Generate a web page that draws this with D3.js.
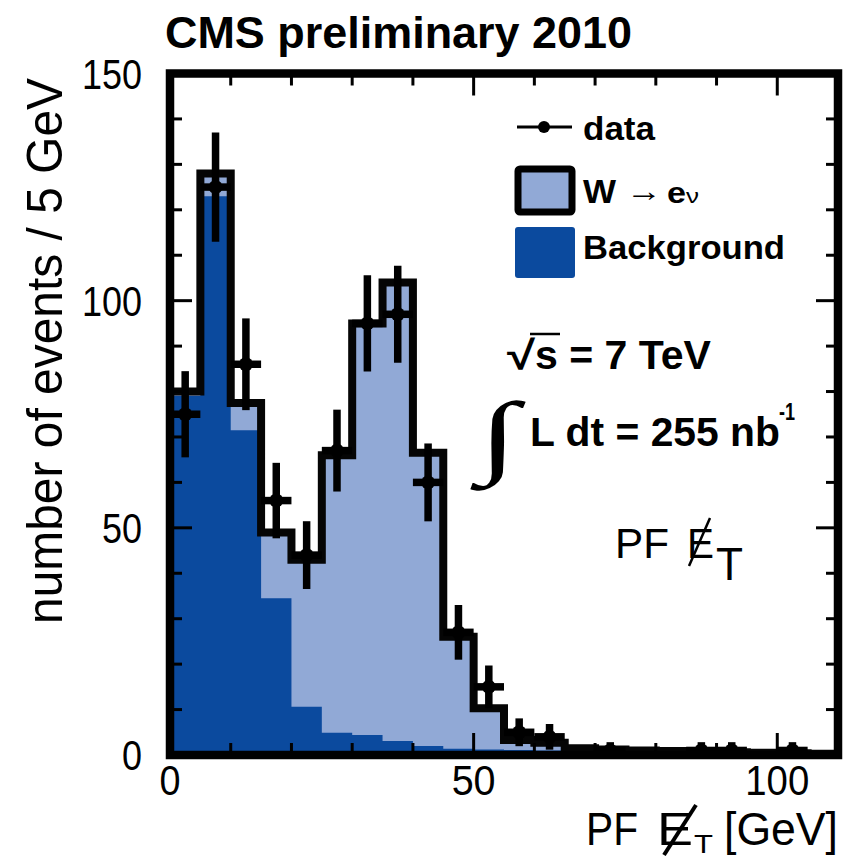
<!DOCTYPE html>
<html>
<head>
<meta charset="utf-8">
<script src="https://cdn.jsdelivr.net/npm/d3@7"></script>
<style>
  body { margin: 0; background: #ffffff; }
  svg { display: block; }
</style>
</head>
<body>
<svg id="chart" width="848" height="862"></svg>
<script>
// PF missing transverse energy in the W -> e nu selection, 5 GeV bins from 0 to 110 GeV
const binLow = [0, 5, 10, 15, 20, 25, 30, 35, 40, 45, 50, 55, 60, 65, 70, 75, 80, 85, 90, 95, 100, 105];
const binWidth = 5;
const background = [79, 123, 71.5, 34.5, 10.6, 4.9, 4.4, 3.1, 2.0, 1.4, 1.2, 1.1, 1.0, 0.9, 0.9, 0.8, 0.8, 0.2, 0.2, 0.1, 0.1, 0.1];
const signalW = [1, 5, 6, 14.5, 32.4, 61.1, 90.6, 100.9, 64.5, 24.6, 9.1, 2.2, 1.7, 0.6, 0.3, 0.2, 0.1, 0.6, 0.4, 0.4, 0.3, 0.2];
const dataCounts = [75, 125, 86, 56, 44, 67, 95, 97, 60, 27, 15, 5, 4, 0, 1, 0, 0, 1, 1, 0, 1, 0];
const xMajorTicks = [0, 50, 100];
const yMajorTicks = [0, 50, 100, 150];

const colBackground = "#0b4a9e";
const colSignal = "#91a9d6";
const SANS = "'Liberation Sans', Arial, Helvetica, sans-serif";
const SERIF = "'Liberation Serif', 'Times New Roman', serif";

const svg = d3.select("#chart");

const x = d3.scaleLinear().domain([0, 110]).range([170, 838]);
const y = d3.scaleLinear().domain([0, 150]).range([755, 73.5]);

const bins = binLow.map((lo, i) => ({
  lo, hi: lo + binWidth,
  bkg: background[i],
  tot: background[i] + signalW[i],
  n: dataCounts[i]
}));

// stacked fills: total (signal on top of background), then background
const area = d3.area()
  .x(d => x(d[0]))
  .y0(y(0))
  .y1(d => y(d[1]))
  .curve(d3.curveStepAfter);

function stepPoints(key) {
  const pts = bins.map(b => [b.lo, b[key]]);
  pts.push([bins[bins.length - 1].hi, bins[bins.length - 1][key]]);
  return pts;
}

svg.append("path").attr("d", area(stepPoints("tot"))).attr("fill", colSignal);
svg.append("path").attr("d", area(stepPoints("bkg"))).attr("fill", colBackground);

// thick outline of the total prediction
const line = d3.line().x(d => x(d[0])).y(d => y(d[1])).curve(d3.curveStepAfter);
const outlinePts = [[0, 0]].concat(stepPoints("tot"));
svg.append("path")
  .attr("d", line(outlinePts))
  .attr("fill", "none")
  .attr("stroke", "#050505")
  .attr("stroke-width", 8)
  .attr("stroke-linejoin", "miter");

// data points with Poisson error bars
const dataG = svg.append("g");
bins.filter(b => b.n > 0).forEach(b => {
  const c = (b.lo + b.hi) / 2;
  const e = Math.sqrt(b.n);
  dataG.append("line")
    .attr("x1", x(c)).attr("x2", x(c))
    .attr("y1", y(b.n - e)).attr("y2", y(b.n + e))
    .attr("stroke", "#000").attr("stroke-width", 7.5).attr("stroke-linecap", "square");
  dataG.append("line")
    .attr("x1", x(b.lo)).attr("x2", x(b.hi))
    .attr("y1", y(b.n)).attr("y2", y(b.n))
    .attr("stroke", "#000").attr("stroke-width", 7.5);
  dataG.append("circle")
    .attr("cx", x(c)).attr("cy", y(b.n)).attr("r", 7).attr("fill", "#000");
});

// frame and ticks
svg.append("rect")
  .attr("x", x(0)).attr("y", y(150))
  .attr("width", x(110) - x(0)).attr("height", y(0) - y(150))
  .attr("fill", "none").attr("stroke", "#000").attr("stroke-width", 8.5);

const tickG = svg.append("g").attr("stroke", "#000").attr("stroke-width", 3);
d3.range(0, 111, 10).forEach(v => {
  const len = xMajorTicks.includes(v) ? 22 : 12;
  tickG.append("line").attr("x1", x(v)).attr("x2", x(v)).attr("y1", y(0)).attr("y2", y(0) - len);
  tickG.append("line").attr("x1", x(v)).attr("x2", x(v)).attr("y1", y(150)).attr("y2", y(150) + len);
});
d3.range(0, 151, 10).forEach(v => {
  const len = yMajorTicks.includes(v) ? 22 : 12;
  tickG.append("line").attr("x1", x(0)).attr("x2", x(0) + len).attr("y1", y(v)).attr("y2", y(v));
  tickG.append("line").attr("x1", x(110)).attr("x2", x(110) - len).attr("y1", y(v)).attr("y2", y(v));
});

// text helper
function txt(g, s, px, py, size, opts = {}) {
  const t = g.append("text")
    .attr("x", px).attr("y", py)
    .attr("font-family", opts.family || SANS)
    .attr("font-size", size)
    .attr("font-weight", opts.weight || "normal")
    .attr("text-anchor", opts.anchor || "start")
    .attr("fill", "#000")
    .text(s);
  if (opts.len) t.attr("textLength", opts.len).attr("lengthAdjust", "spacingAndGlyphs");
  return t;
}

const textG = svg.append("g");

// axis tick labels
const yLabW = { 0: 20, 50: 40, 100: 60, 150: 60 };
yMajorTicks.forEach(v => {
  txt(textG, String(v), 142, y(v) + 15, 42, { anchor: "end", len: yLabW[v] });
});
const xLabW = { 0: 21, 50: 44, 100: 64 };
xMajorTicks.forEach(v => {
  txt(textG, String(v), x(v), 795, 42, { anchor: "middle", len: xLabW[v] });
});

// title
txt(textG, "CMS preliminary 2010", 165, 48, 44, { weight: "bold", len: 467 });

// y axis title
txt(textG, "number of events / 5 GeV", 0, 0, 50, { anchor: "middle", len: 546 })
  .attr("transform", "translate(62,351) rotate(-90)");

// x axis title: PF E-slash_T [GeV]
txt(textG, "PF", 586, 845, 46, { len: 52 });
txt(textG, "E", 657, 845, 46, { len: 36 });
txt(textG, "T", 694, 853, 26, { len: 19 });
txt(textG, "[GeV]", 724, 845, 46, { len: 114 });
textG.append("line").attr("x1", 664).attr("y1", 855).attr("x2", 696).attr("y2", 805)
  .attr("stroke", "#000").attr("stroke-width", 4);

// legend
const legG = svg.append("g");
legG.append("line").attr("x1", 517).attr("x2", 572).attr("y1", 127).attr("y2", 127)
  .attr("stroke", "#000").attr("stroke-width", 3);
legG.append("circle").attr("cx", 544).attr("cy", 127).attr("r", 6).attr("fill", "#000");
txt(legG, "data", 583, 140, 33, { weight: "bold", len: 72 });

legG.append("rect").attr("x", 518).attr("y", 169).attr("width", 54).attr("height", 43)
  .attr("fill", colSignal).attr("stroke", "#000").attr("stroke-width", 7).attr("rx", 2);
txt(legG, "W", 583, 203, 34, { weight: "bold", len: 33 });
txt(legG, "\u2192", 626, 201, 30, { len: 36 });
txt(legG, "e", 667, 203, 30, { weight: "bold", len: 19 });
txt(legG, "\u03BD", 686, 203, 21, { len: 13 });

legG.append("rect").attr("x", 515).attr("y", 227).attr("width", 60).attr("height", 51)
  .attr("fill", colBackground).attr("rx", 3);
txt(legG, "Background", 583, 259, 33, { weight: "bold", len: 202 });

// energy and luminosity
txt(textG, "\u221A", 507, 369, 40, { weight: "bold", len: 28 });
textG.append("line").attr("x1", 530).attr("x2", 560).attr("y1", 334).attr("y2", 334)
  .attr("stroke", "#000").attr("stroke-width", 2.5);
txt(textG, "s = 7 TeV", 535, 369, 40, { weight: "bold", len: 176 });

txt(textG, "\u222B", 478, 466, 92, { family: SERIF, weight: "bold", len: 40 });
txt(textG, "L dt = 255 nb", 530, 446, 40, { weight: "bold", len: 250 });
txt(textG, "-1", 779, 420, 24, { weight: "bold", len: 16 });

// variable name
txt(textG, "PF", 615, 558, 43, { len: 54 });
txt(textG, "E", 687, 558, 43, { len: 27 });
txt(textG, "T", 716, 580, 46, { len: 27 });
textG.append("line").attr("x1", 689).attr("y1", 566).attr("x2", 710).attr("y2", 518)
  .attr("stroke", "#000").attr("stroke-width", 2.5);
</script>
</body>
</html>
